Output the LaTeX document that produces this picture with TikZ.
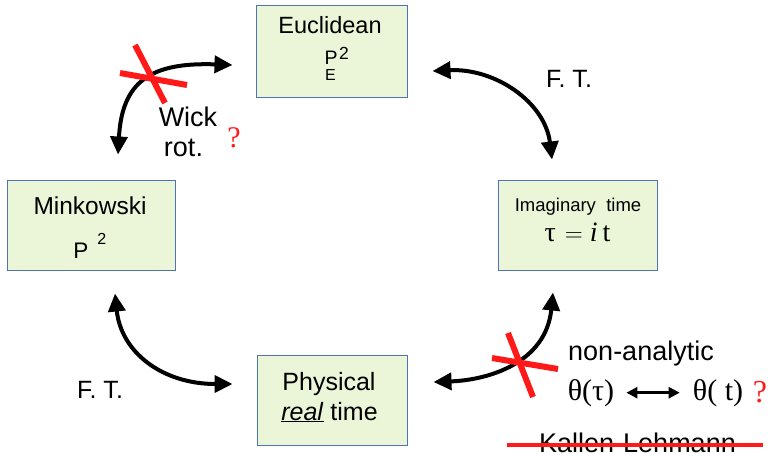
\documentclass[tikz,border=0pt]{standalone}
\usepackage{fontspec}
\setmainfont{Liberation Sans}
\newfontfamily\seriff{Liberation Serif}
\usetikzlibrary{arrows.meta,calc}
\definecolor{boxfill}{RGB}{235,245,215}
\definecolor{boxline}{RGB}{80,115,180}
\definecolor{xred}{RGB}{255,25,25}
\tikzset{
  box/.style={draw=boxline, fill=boxfill, line width=1pt, inner sep=0pt},
  txt/.style={anchor=base, inner sep=0pt, font=\fontsize{#1}{#1}\selectfont},
  curvearrow/.style={line width=4pt, {Triangle[length=18pt,width=17pt]}-{Triangle[length=18pt,width=17pt]}},
  xline/.style={draw=xred, line width=6pt},
  smallarrow/.style={line width=2.5pt, {Triangle[length=11pt,width=11pt]}-{Triangle[length=11pt,width=11pt]}}
}
\begin{document}
\begin{tikzpicture}[x=1pt,y=-1pt]
\useasboundingbox (0,0) rectangle (768,453);
% boxes
\node[box, minimum width=151, minimum height=92] (euc) at (332,51) {};
\node[box, minimum width=168, minimum height=90] (mink) at (91,225) {};
\node[box, minimum width=159, minimum height=90] (imag) at (577.5,225) {};
\node[box, minimum width=150, minimum height=90] (phys) at (332,400) {};
% box texts
\node[txt=23.5] (euct) at (330,33) {Euclidean};
\node[txt=19.5] (pe) at (331,64.5) {P};
\node[txt=16] (pesub) at (330.5,80.5) {E};
\node[txt=17.5] (pesup) at (344,59.3) {2};
\node[txt=24.5] (minkt) at (90,214) {Minkowski};
\node[txt=22.5] (mp) at (81,258) {P};
\node[txt=16] (mpsup) at (101.7,244) {2};
\node[txt=18.5] (imagt) at (578,211) {Imaginary\ \ time};
\node[txt=28] (tau) at (577.5,241) {\seriff τ\hspace{9pt}$=$\hspace{7pt}\textit{i}\hspace{5pt}t};
\node[txt=25] (physt) at (329,390) {Physical};
\node[txt=25] (realt) at (329.5,420) {\underline{\textit{real}} time};
% other texts
\node[txt=25] (ft1) at (569,87) {F. T.};
\node[txt=25] (ft2) at (100,398) {F. T.};
\node[txt=27] (wick) at (188,126) {Wick};
\node[txt=27] (rot) at (183.5,156) {rot.};
\node[txt=30, text=xred] (q1) at (234,147) {\seriff ?};
\node[txt=27] (nonan) at (641,360) {non-analytic};
\node[txt=30] (thtau) at (591,400) {\seriff θ(τ)};
\node[txt=30] (tht) at (718,400) {\seriff θ( t)};
\node[txt=32, text=xred] (q2) at (760,402) {\seriff ?};
\node[txt=27] (kl) at (637.5,452) {Kallen-Lehmann};
% connectors
\draw[curvearrow] ($(euc.west)+(-23.5,14)$) .. controls (150,62) and (122,82) .. ($(mink.north)+(27,-25)$);
\draw[curvearrow] ($(euc.east)+(24.5,20)$) .. controls (495,68) and (545,102) .. ($(imag.north)+(-25.5,-20)$);
\draw[curvearrow] ($(mink.south)+(24,23)$) .. controls (121,352) and (162,384) .. ($(phys.west)+(-24,-16)$);
\draw[curvearrow] ($(phys.east)+(26,-18)$) .. controls (490,380) and (546,362) .. ($(imag.south)+(-24.5,22)$);
\draw[smallarrow, shorten <=12pt, shorten >=13pt] (thtau) -- (tht);
% red crosses
\draw[xline] (135,45) -- (165,103);
\draw[xline] (120,73) -- (187,85);
\draw[xline] (508,333) -- (533,397);
\draw[xline] (492,358) -- (558,369);
\draw[draw=xred, line width=4pt] (507,445) -- (763,445);
\end{tikzpicture}
\end{document}
